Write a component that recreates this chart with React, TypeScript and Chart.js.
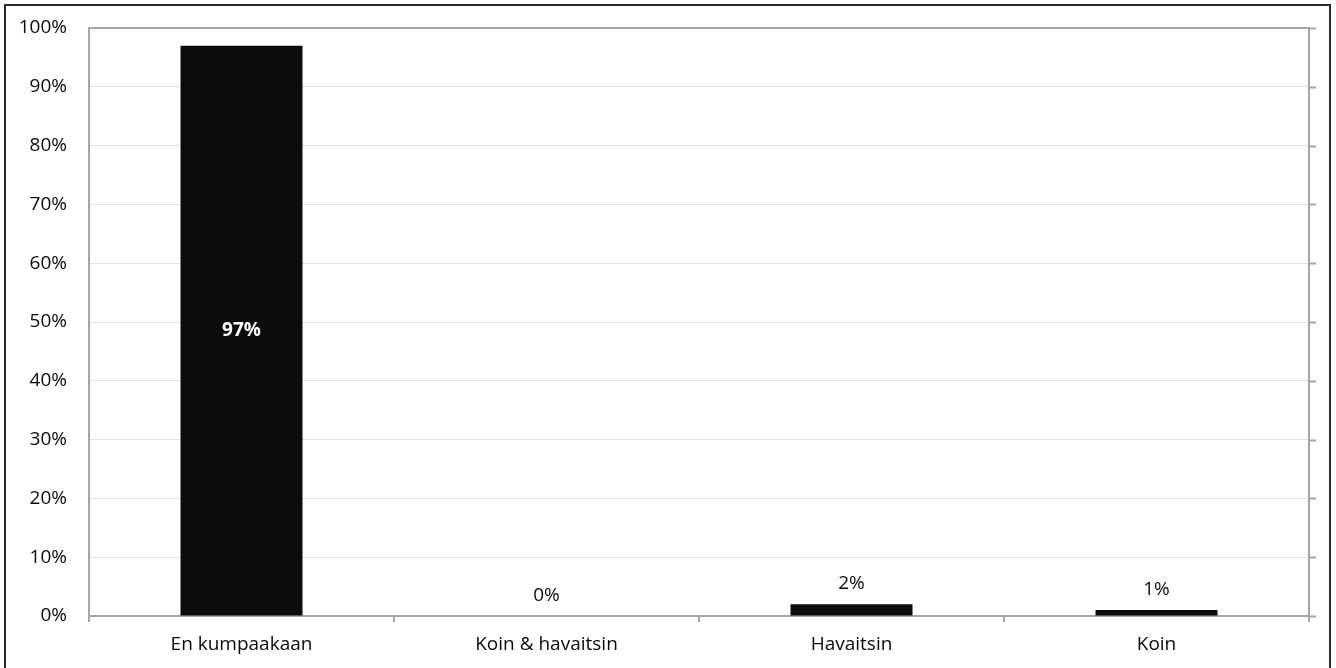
import React, { useEffect, useRef } from "react";
import { Chart, registerables } from "chart.js";

Chart.register(...registerables);

const categories = ["En kumpaakaan", "Koin & havaitsin", "Havaitsin", "Koin"];
const shares = [97, 0, 2, 1];
const yTicks = [0, 10, 20, 30, 40, 50, 60, 70, 80, 90, 100];

const FONT = "'Open Sans', Lato, sans-serif";
const SIZE = 19;
const WEIGHT = 500;

// Frame, plot border, axis tick marks and value labels
const decorations = {
  id: "decorations",
  beforeDatasetsDraw(chart: any) {
    const { ctx, chartArea } = chart;
    const { left, right, top, bottom } = chartArea;
    const y = chart.scales.y;
    ctx.save();
    ctx.strokeStyle = "#a6a6a6";
    ctx.lineWidth = 2;
    // ticks on the right edge
    ctx.beginPath();
    yTicks.forEach((t) => {
      const py = Math.round(y.getPixelForValue(t)) + 0.5;
      ctx.moveTo(right, py);
      ctx.lineTo(right + 7, py);
    });
    ctx.stroke();
    // category boundary ticks below the axis
    const step = (right - left) / categories.length;
    ctx.beginPath();
    for (let i = 0; i <= categories.length; i++) {
      const px = left + i * step;
      ctx.moveTo(px, bottom);
      ctx.lineTo(px, bottom + 6);
    }
    ctx.stroke();
    // plot area border
    ctx.strokeRect(left, top, right - left, bottom - top);
    ctx.restore();
  },
  afterDatasetsDraw(chart: any) {
    const { ctx } = chart;
    const meta = chart.getDatasetMeta(0);
    ctx.save();
    ctx.textAlign = "center";
    meta.data.forEach((bar: any, i: number) => {
      const v = shares[i];
      const txt = v + "%";
      if (v > 50) {
        ctx.font = "bold " + SIZE + "px " + FONT;
        ctx.fillStyle = "#ffffff";
        ctx.textBaseline = "middle";
        ctx.fillText(txt, bar.x, (bar.y + bar.base) / 2);
      } else {
        ctx.font = WEIGHT + " " + SIZE + "px " + FONT;
        ctx.fillStyle = "#0a0a0a";
        ctx.textBaseline = "bottom";
        ctx.fillText(txt, bar.x, bar.y - 11);
      }
    });
    ctx.restore();
  },
  afterDraw(chart: any) {
    const { ctx } = chart;
    ctx.save();
    ctx.strokeStyle = "#2a2a2a";
    ctx.lineWidth = 2;
    ctx.strokeRect(5, 5, 1325, 720);
    ctx.restore();
  },
};

export default function App() {
  const ref = useRef<HTMLCanvasElement | null>(null);

  useEffect(() => {
    document.body.style.margin = "0";
    const chart = new Chart(ref.current as HTMLCanvasElement, {
      type: "bar",
      data: {
        labels: categories,
        datasets: [
          {
            data: shares,
            backgroundColor: "#0d0d0d",
            borderWidth: 0,
            barPercentage: 0.4,
            categoryPercentage: 1,
          },
        ],
      },
      options: {
        animation: false,
        responsive: false,
        maintainAspectRatio: false,
        layout: { padding: { left: 0, top: 28, right: 27, bottom: 0 } },
        plugins: {
          legend: { display: false },
          tooltip: { enabled: false },
        },
        scales: {
          x: {
            grid: { display: false, drawTicks: false },
            border: { display: false },
            ticks: {
              color: "#0a0a0a",
              font: { family: FONT, size: SIZE, weight: WEIGHT },
              padding: 17,
              maxRotation: 0,
            },
            afterFit(scale: any) {
              scale.height = 52;
            },
          },
          y: {
            min: 0,
            max: 100,
            grid: { color: "#e2e2e2", lineWidth: 1, drawTicks: false },
            border: { display: false },
            afterBuildTicks(scale: any) {
              scale.ticks = yTicks.map((v) => ({ value: v }));
            },
            ticks: {
              color: "#0a0a0a",
              font: { family: FONT, size: SIZE, weight: WEIGHT },
              padding: 22,
              callback: (v: any) => v + "%",
            },
            afterFit(scale: any) {
              scale.width = 89;
              scale.paddingTop = 0;
              scale.paddingBottom = 0;
            },
          },
        },
      },
      plugins: [decorations],
    });
    return () => chart.destroy();
  }, []);

  return (
    <div style={{ width: 1336, height: 668, background: "#fff" }}>
      <canvas ref={ref} width={1336} height={668} />
    </div>
  );
}
